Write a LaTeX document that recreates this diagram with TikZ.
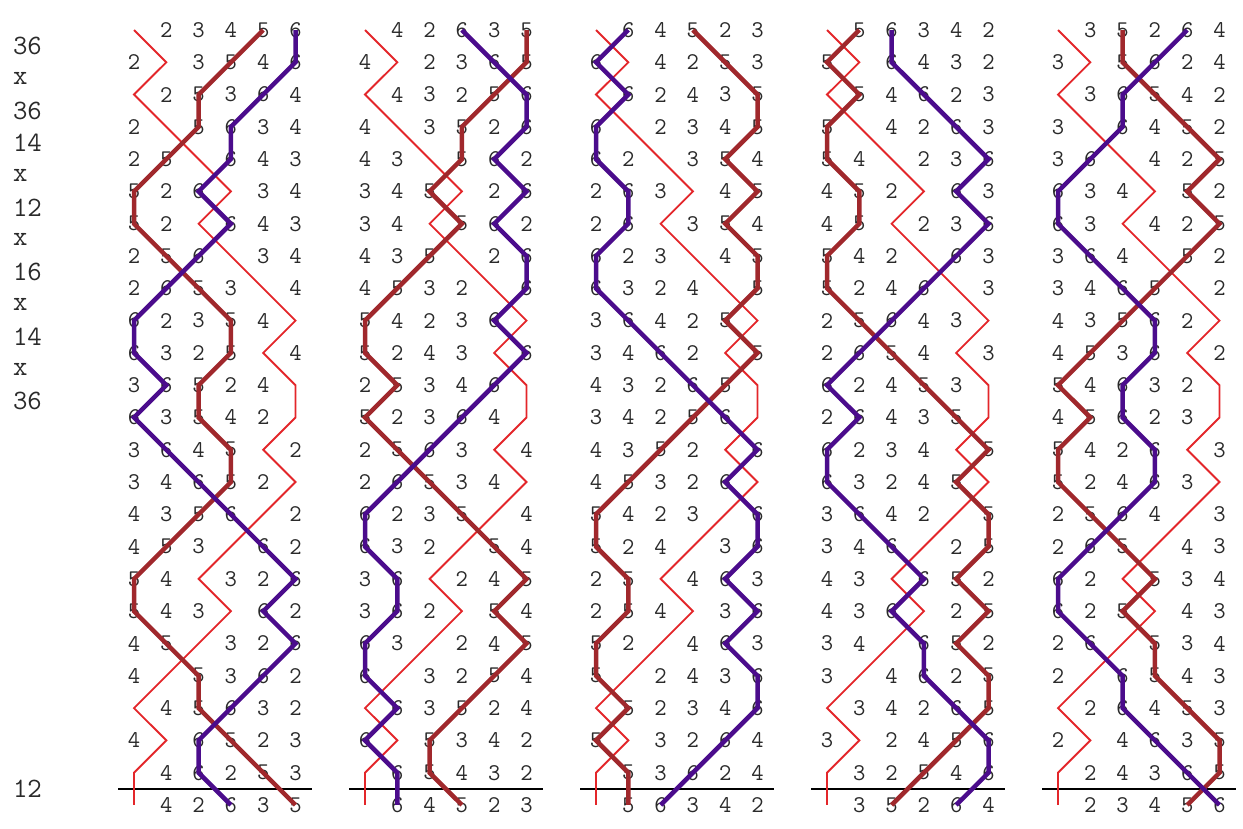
\documentclass[tikz,border=0pt]{standalone}
\definecolor{bellred}{HTML}{E3262A}
\definecolor{bellbrown}{HTML}{A0282C}
\definecolor{bellpurple}{HTML}{4B0C8C}
\definecolor{digitgray}{HTML}{2A2A2A}
\begin{document}
\begin{tikzpicture}[x=1pt,y=-1pt,
  digit/.style={inner sep=0pt,outer sep=0pt,text=digitgray,font=\ttfamily\fontsize{24}{24}\selectfont},
  lab/.style={inner sep=0pt,outer sep=0pt,anchor=west,text=digitgray,font=\ttfamily\fontsize{28}{28}\selectfont},
  redline/.style={draw=bellred,line width=1.9pt},
  brownline/.style={draw=bellbrown,line width=4.5pt},
  purpleline/.style={draw=bellpurple,line width=4.5pt},
  leadrule/.style={draw=black,line width=2.4pt}]
\useasboundingbox (0,0) rectangle (1243,828);
% place notation labels
\foreach \t/\i in {36/1,x/2,36/3,14/4,x/5,12/6,x/7,16/8,x/9,14/10,x/11,36/12,12/24}{
  \node[lab] (lab-\i) at (13,{30+(\i-0.5)*32.29}) {\t};
}
% rows
\foreach \hd [count=\L] in {{1,2,3,4,5,6},{1,4,2,6,3,5},{1,6,4,5,2,3},{1,5,6,3,4,2},{1,3,5,2,6,4}}{
  \foreach \ua/\ub/\uc/\ud/\ue/\uf [count=\r] in {
    1/2/3/4/5/6, 2/1/3/5/4/6, 1/2/5/3/6/4, 2/1/5/6/3/4, 2/5/1/6/4/3,
    5/2/6/1/3/4, 5/2/1/6/4/3, 2/5/6/1/3/4, 2/6/5/3/1/4, 6/2/3/5/4/1,
    6/3/2/5/1/4, 3/6/5/2/4/1, 6/3/5/4/2/1, 3/6/4/5/1/2, 3/4/6/5/2/1,
    4/3/5/6/1/2, 4/5/3/1/6/2, 5/4/1/3/2/6, 5/4/3/1/6/2, 4/5/1/3/2/6,
    4/1/5/3/6/2, 1/4/5/6/3/2, 4/1/6/5/2/3, 1/4/6/2/5/3, 1/4/2/6/3/5}{
    \foreach \q [count=\p] in {\ua,\ub,\uc,\ud,\ue,\uf}{
      \pgfmathtruncatemacro\bell{{\hd}[\q-1]}
      \coordinate (b\bell-\L-\r) at ({134+(\L-1)*231+(\p-1)*32.3},{30+(\r-1)*32.29});
      \ifnum\bell>1 \node[digit] (n\bell-\L-\r) at (b\bell-\L-\r) {\bell};\fi
    }
  }
  \coordinate (ruleL-\L) at ({118+(\L-1)*231},788.8);
  \coordinate (ruleR-\L) at ({312+(\L-1)*231},788.8);
}
% lines
\foreach \L in {1,...,5}{
  \draw[leadrule] (ruleL-\L) -- (ruleR-\L);
  \draw[redline] (b1-\L-1) \foreach \r in {2,...,25}{ -- (b1-\L-\r)};
  \draw[brownline] (b5-\L-1) \foreach \r in {2,...,25}{ -- (b5-\L-\r)};
  \draw[purpleline] (b6-\L-1) \foreach \r in {2,...,25}{ -- (b6-\L-\r)};
}
\end{tikzpicture}
\end{document}
